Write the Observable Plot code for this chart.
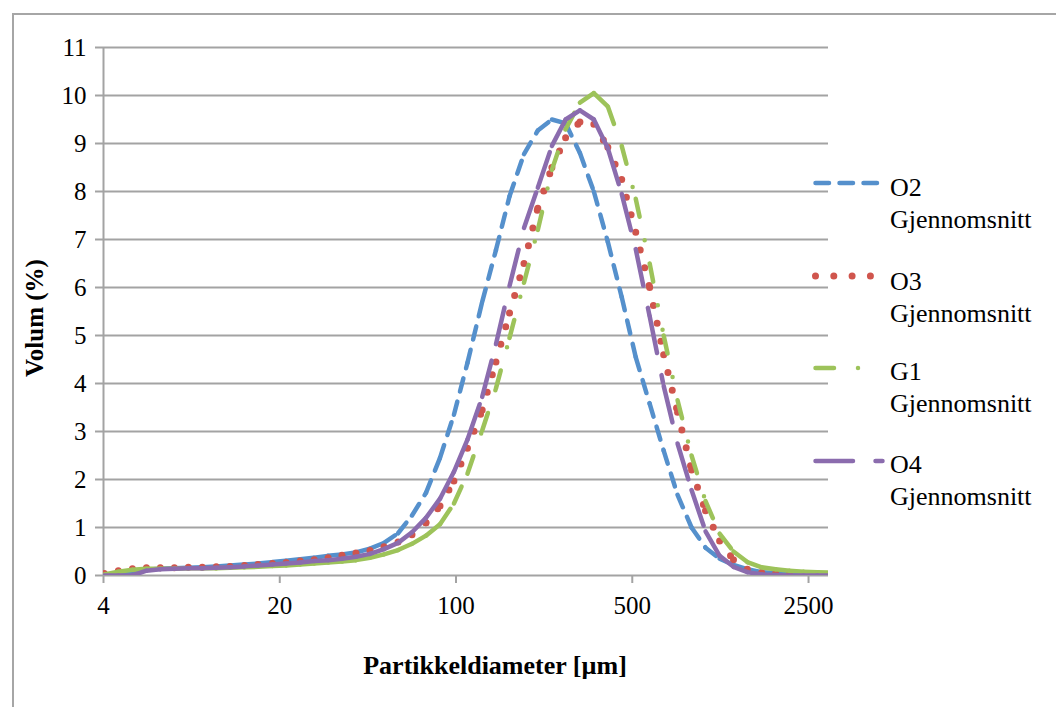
<!DOCTYPE html>
<html><head><meta charset="utf-8">
<script src="https://cdn.jsdelivr.net/npm/d3@7"></script>
<script src="https://cdn.jsdelivr.net/npm/@observablehq/plot@0.6"></script>
<style>
html,body{margin:0;padding:0;background:#fff;overflow:hidden;width:1056px;height:707px;}
#frame{position:absolute;left:12px;top:13px;width:2000px;height:2000px;border-top:2px solid #a6a6a6;border-left:2px solid #a6a6a6;}
#chart{position:absolute;left:0;top:0;}
</style></head><body>
<div id="frame"></div><div id="chart"></div>
<script>
// Particle size bins (µm)
const sizes = [4.03, 4.58, 5.21, 5.92, 6.72, 7.64, 8.68, 9.86, 11.2, 12.7, 14.5, 16.4, 18.7, 21.2, 24.1, 27.4, 31.1, 35.3, 40.1, 45.6, 51.8, 58.9, 66.9, 76.0, 86.4, 98.1, 111, 127, 144, 163, 186, 211, 240, 272, 310, 352, 400, 454, 516, 586, 666, 756, 859, 976, 1110, 1260, 1430, 1630, 1850, 2100, 2390, 2710, 3080];
// Volume (%) per series
const o2 = [0, 0.02, 0.08, 0.12, 0.14, 0.15, 0.16, 0.17, 0.19, 0.21, 0.23, 0.25, 0.28, 0.31, 0.34, 0.37, 0.41, 0.44, 0.48, 0.56, 0.68, 0.88, 1.25, 1.72, 2.45, 3.35, 4.43, 5.7, 6.78, 7.9, 8.78, 9.27, 9.5, 9.42, 8.8, 8.0, 6.95, 5.8, 4.55, 3.58, 2.6, 1.68, 1.0, 0.58, 0.35, 0.22, 0.13, 0.07, 0.05, 0.03, 0.02, 0.02, 0.01];
const o3 = [0.04, 0.1, 0.14, 0.16, 0.16, 0.16, 0.17, 0.17, 0.18, 0.19, 0.21, 0.23, 0.25, 0.27, 0.3, 0.33, 0.37, 0.42, 0.47, 0.52, 0.6, 0.7, 0.85, 1.1, 1.45, 1.97, 2.65, 3.45, 4.45, 5.47, 6.5, 7.65, 8.5, 9.12, 9.45, 9.4, 8.92, 8.25, 7.15, 6.0, 4.6, 3.4, 2.2, 1.35, 0.72, 0.33, 0.13, 0.06, 0.04, 0.03, 0.03, 0.04, 0.05];
const g1 = [0.02, 0.08, 0.12, 0.14, 0.14, 0.14, 0.15, 0.15, 0.15, 0.16, 0.17, 0.18, 0.2, 0.21, 0.23, 0.25, 0.27, 0.29, 0.32, 0.37, 0.44, 0.53, 0.66, 0.83, 1.07, 1.5, 2.12, 3.02, 3.9, 4.95, 6.1, 7.2, 8.45, 9.3, 9.85, 10.05, 9.77, 8.95, 7.85, 6.5, 5.0, 3.65, 2.5, 1.55, 0.87, 0.5, 0.28, 0.17, 0.13, 0.1, 0.08, 0.07, 0.06];
const o4 = [0, 0, 0, 0.1, 0.13, 0.14, 0.15, 0.15, 0.16, 0.17, 0.19, 0.21, 0.23, 0.25, 0.27, 0.3, 0.32, 0.35, 0.39, 0.45, 0.55, 0.68, 0.9, 1.2, 1.6, 2.16, 2.83, 3.72, 4.82, 6.03, 7.24, 8.08, 8.95, 9.5, 9.69, 9.5, 8.9, 7.95, 6.8, 5.4, 3.95, 2.75, 1.78, 0.92, 0.41, 0.18, 0.07, 0.02, 0.01, 0, 0, 0, 0];
const seriesNames = ["O2", "O3", "G1", "O4"];
const legendSub = "Gjennomsnitt";
const xTicks = [4, 20, 100, 500, 2500];
const yTicks = [0, 1, 2, 3, 4, 5, 6, 7, 8, 9, 10, 11];

const styles = [
  {color: "#5590cc", dash: "13.5,10.5", width: 4.5},
  {color: "#d0554d", dash: "0,18.3", width: 7},
  {color: "#9dc35a", dash: "18.5,24,0,25,0,24", width: 4.5},
  {color: "#8b6cae", dash: "37.5,22.5,7.5,22.5", width: 4.5}
];
const seriesValues = [o2, o3, g1, o4];

function segments(vals) {
  const out = [];
  for (let i = 1; i < vals.length; i++) out.push({x1: sizes[i-1], y1: vals[i-1], x2: sizes[i], y2: vals[i]});
  return out;
}

const lineMarks = seriesValues.map((vals, k) => Plot.link(segments(vals), {
  x1: "x1", y1: "y1", x2: "x2", y2: "y2",
  stroke: styles[k].color, strokeWidth: styles[k].width,
  strokeDasharray: styles[k].dash, strokeLinecap: "round", strokeLinejoin: "round",
  clip: true
}));

const grey = "#a3a3a3";
const font = "'Liberation Serif', 'Times New Roman', serif";
const svg = Plot.plot({
  width: 1056, height: 707,
  marginLeft: 103, marginRight: 228, marginTop: 47, marginBottom: 132,
  x: {type: "log", domain: [4, 3000]},
  y: {domain: [0, 11]},
  style: {fontFamily: font, fontSize: "25px", color: "black", background: "transparent", overflow: "visible"},
  marks: [
    Plot.gridY(yTicks, {stroke: grey, strokeOpacity: 1, strokeWidth: 2}),
    Plot.ruleX([4], {stroke: grey, strokeWidth: 2}),
    Plot.axisY(yTicks, {tickSize: 8, tickPadding: 9, stroke: grey, strokeWidth: 2, fill: "black", label: null, tickFormat: d => String(d)}),
    Plot.axisX(xTicks, {tickSize: 8, stroke: grey, strokeWidth: 2, label: null, tickFormat: () => ""}),
    Plot.text(xTicks, {x: d => d, frameAnchor: "bottom", lineAnchor: "top", dy: 21, text: d => String(d), fill: "black", fontSize: 25}),
    ...lineMarks
  ]
});
document.getElementById("chart").appendChild(svg);

const s = d3.select(svg);
s.append("text").attr("x", 495).attr("y", 674).attr("text-anchor", "middle")
  .attr("font-family", font).attr("font-size", 26).attr("font-weight", "bold").attr("fill", "black")
  .text("Partikkeldiameter [µm]");
s.append("text").attr("transform", "translate(43,318) rotate(-90)").attr("text-anchor", "middle")
  .attr("font-family", font).attr("font-size", 25).attr("font-weight", "bold").attr("fill", "black")
  .text("Volum (%)");

const legY = [183, 276, 368, 461];
const legBase = [196, 290, 380, 473];
const lg = s.append("g").attr("text-anchor", "start");
seriesNames.forEach((name, k) => {
  lg.append("line").attr("x1", 815.5).attr("x2", 882.5).attr("y1", legY[k]).attr("y2", legY[k])
    .attr("stroke", styles[k].color).attr("stroke-width", styles[k].width)
    .attr("stroke-dasharray", styles[k].dash).attr("stroke-linecap", "round");
  lg.append("text").attr("x", 890).attr("y", legBase[k]).attr("text-anchor", "start").attr("font-family", font).attr("font-size", 26)
    .attr("fill", "black").text(name);
  lg.append("text").attr("x", 890).attr("y", legBase[k] + 32).attr("text-anchor", "start").attr("font-family", font).attr("font-size", 26)
    .attr("fill", "black").text(legendSub);
});
</script>
</body></html>
